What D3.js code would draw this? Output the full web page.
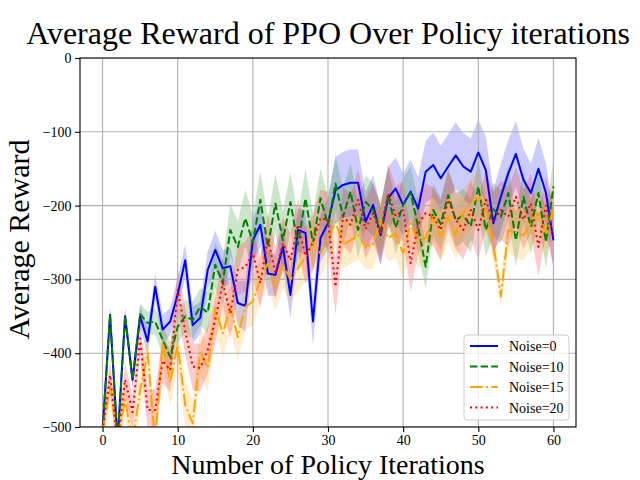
<!DOCTYPE html>
<html>
<head>
<meta charset="utf-8">
<script src="https://cdn.jsdelivr.net/npm/d3@7"></script>
<style>
  body { margin: 0; background: #fff; }
  svg { display: block; font-family: "Liberation Serif", "Times New Roman", serif; }
</style>
</head>
<body>
<svg id="chart" width="640" height="480"></svg>
<script>
// x values: policy iteration index 0..60
const iterations = d3.range(0, 61);

const xTicks = [0, 10, 20, 30, 40, 50, 60];
const yTicks = [0, -100, -200, -300, -400, -500];

const noiseLabels = ['Noise=0', 'Noise=10', 'Noise=15', 'Noise=20'];

// mean reward per iteration
const rewardNoise0 = [
  -505, -348, -520, -350, -436, -350, -384, -310, -368, -357,
  -320, -274, -362, -352, -287, -260, -285, -282, -332, -336,
  -247, -226, -292, -294, -256, -321, -233, -237, -357, -244,
  -224, -179, -172, -169, -169, -222, -199, -240, -190, -177,
  -199, -181, -204, -154, -145, -163, -147, -132, -147, -154,
  -128, -152, -224, -188, -156, -130, -165, -183, -150, -183,
  -247
];
const rewardNoise10 = [
  -505, -348, -520, -350, -436, -347, -359, -357, -382, -405,
  -364, -350, -355, -337, -345, -280, -305, -233, -256, -217,
  -250, -192, -256, -197, -247, -195, -253, -190, -251, -190,
  -226, -170, -215, -181, -233, -195, -206, -235, -186, -230,
  -199, -183, -229, -283, -206, -225, -186, -220, -213, -228,
  -174, -233, -205, -215, -183, -247, -188, -229, -183, -249,
  -174
];
const rewardNoise15 = [
  -505, -445, -520, -463, -520, -450, -400, -520, -385, -440,
  -389, -470, -495, -398, -420, -339, -373, -337, -378, -337,
  -330, -300, -278, -310, -280, -300, -285, -270, -250, -265,
  -242, -222, -253, -247, -240, -255, -253, -219, -244, -238,
  -265, -224, -251, -243, -215, -242, -215, -240, -210, -197,
  -188, -206, -251, -323, -233, -237, -240, -224, -210, -237,
  -206
];
const rewardNoise20 = [
  -505, -430, -520, -436, -480, -380, -477, -477, -410, -423,
  -314, -370, -418, -420, -395, -355, -305, -346, -287, -283,
  -265, -305, -245, -292, -251, -274, -226, -268, -250, -217,
  -219, -310, -214, -226, -192, -232, -210, -240, -183, -214,
  -206, -278, -225, -210, -215, -233, -192, -219, -233, -206,
  -233, -192, -222, -206, -215, -188, -219, -197, -256, -200,
  -242
];

// spread (half width of the shaded band)
const spreadNoise0 = [
   8, 10,  8, 12, 12, 15, 18, 18, 20, 18,
  22, 22, 25, 22, 25, 26, 25, 25, 30, 35,
  30, 30, 30, 28, 30, 32, 30, 30, 32, 32,
  35, 45, 45, 45, 45, 40, 40, 40, 42, 42,
  43, 43, 43, 42, 44, 44, 44, 45, 45, 45,
  45, 45, 45, 45, 45, 45, 42, 40, 42, 40,
  38
];
const spreadNoise10 = [
   8, 10,  8, 10, 10, 14, 15, 18, 20, 20,
  22, 22, 25, 25, 28, 30, 32, 35, 35, 38,
  38, 38, 40, 40, 40, 40, 40, 40, 40, 40,
  38, 38, 38, 38, 38, 36, 36, 36, 36, 36,
  36, 36, 36, 30, 36, 36, 36, 36, 36, 36,
  36, 36, 36, 36, 36, 36, 36, 36, 36, 36,
  38
];
const spreadNoise15 = [
  20, 22, 20, 25, 25, 28, 30, 30, 30, 32,
  32, 32, 30, 32, 32, 32, 32, 32, 32, 32,
  32, 32, 32, 32, 32, 32, 32, 32, 32, 32,
  32, 32, 32, 32, 32, 32, 32, 32, 32, 32,
  34, 34, 34, 34, 34, 34, 34, 34, 34, 34,
  34, 30, 25, 15, 30, 34, 34, 34, 34, 34,
  34
];
const spreadNoise20 = [
  18, 20, 18, 22, 22, 25, 28, 28, 30, 30,
  30, 32, 32, 32, 32, 32, 32, 34, 34, 34,
  34, 34, 36, 36, 36, 36, 36, 38, 38, 38,
  38, 38, 40, 40, 40, 40, 40, 40, 40, 40,
  40, 40, 40, 40, 40, 40, 40, 40, 40, 40,
  40, 40, 40, 40, 40, 40, 40, 40, 40, 40,
  40
];

const seriesList = [
  { label: noiseLabels[0], mean: rewardNoise0, spread: spreadNoise0, color: 'blue', dash: null },
  { label: noiseLabels[1], mean: rewardNoise10, spread: spreadNoise10, color: 'green', dash: '7.4,3.2' },
  { label: noiseLabels[2], mean: rewardNoise15, spread: spreadNoise15, color: 'orange', dash: '12.8,3.2,2,3.2' },
  { label: noiseLabels[3], mean: rewardNoise20, spread: spreadNoise20, color: 'red', dash: '2,3.3' },
];

const plot = { left: 80, right: 576, top: 58, bottom: 427 };

const svg = d3.select('#chart');

const x = d3.scaleLinear().domain([-3, 63]).range([plot.left, plot.right]);
const y = d3.scaleLinear().domain([-500, 0]).range([plot.bottom, plot.top]);

svg.append('defs').append('clipPath').attr('id', 'plotClip')
  .append('rect')
  .attr('x', plot.left).attr('y', plot.top)
  .attr('width', plot.right - plot.left).attr('height', plot.bottom - plot.top);

const inner = svg.append('g').attr('clip-path', 'url(#plotClip)');

// shaded bands go first (matplotlib puts collections under grid and lines)
seriesList.forEach(s => {
  const band = d3.area()
    .x(i => x(i))
    .y0(i => y(s.mean[i] - s.spread[i]))
    .y1(i => y(s.mean[i] + s.spread[i]));
  inner.append('path')
    .attr('d', band(iterations))
    .attr('fill', s.color)
    .attr('fill-opacity', 0.2)
    .attr('stroke', 'none');
});

// grid
const gridG = inner.append('g');
xTicks.forEach(t => {
  gridG.append('line')
    .attr('x1', x(t)).attr('x2', x(t))
    .attr('y1', plot.top).attr('y2', plot.bottom)
    .attr('stroke', '#b0b0b0').attr('stroke-width', 1.1);
});
yTicks.forEach(t => {
  gridG.append('line')
    .attr('x1', plot.left).attr('x2', plot.right)
    .attr('y1', y(t)).attr('y2', y(t))
    .attr('stroke', '#b0b0b0').attr('stroke-width', 1.1);
});

// mean lines
seriesList.forEach(s => {
  const line = d3.line().x(i => x(i)).y(i => y(s.mean[i]));
  inner.append('path')
    .attr('d', line(iterations))
    .attr('fill', 'none')
    .attr('stroke', s.color)
    .attr('stroke-width', 2)
    .attr('stroke-dasharray', s.dash)
    .attr('stroke-linejoin', 'round');
});

// axes
const fmt = d => (d < 0 ? '\u2212' + Math.abs(d) : String(d));

const xAxis = svg.append('g')
  .attr('transform', `translate(0,${plot.bottom})`)
  .call(d3.axisBottom(x).tickValues(xTicks).tickSize(4.9).tickPadding(3.5).tickFormat(fmt));
const yAxis = svg.append('g')
  .attr('transform', `translate(${plot.left},0)`)
  .call(d3.axisLeft(y).tickValues(yTicks).tickSize(4.9).tickPadding(3.5).tickFormat(fmt));

[xAxis, yAxis].forEach(a => {
  a.select('.domain').remove();
  a.selectAll('.tick line').attr('stroke', '#000').attr('stroke-width', 1.1);
  a.selectAll('.tick text')
    .attr('fill', '#000')
    .style('font-family', '"Liberation Serif", serif')
    .style('font-size', '14px');
});

// frame
svg.append('rect')
  .attr('x', plot.left).attr('y', plot.top)
  .attr('width', plot.right - plot.left).attr('height', plot.bottom - plot.top)
  .attr('fill', 'none').attr('stroke', '#000').attr('stroke-width', 1.1);

// titles
svg.append('text')
  .attr('x', (plot.left + plot.right) / 2).attr('y', 44)
  .attr('text-anchor', 'middle')
  .style('font-size', '32px')
  .text('Average Reward of PPO Over Policy iterations');

svg.append('text')
  .attr('x', (plot.left + plot.right) / 2).attr('y', 474)
  .attr('text-anchor', 'middle')
  .style('font-size', '28px')
  .text('Number of Policy Iterations');

svg.append('text')
  .attr('transform', `translate(29,${(plot.top + plot.bottom) / 2 - 3}) rotate(-90)`)
  .attr('text-anchor', 'middle')
  .style('font-size', '30px')
  .text('Average Reward');

// legend
const legend = svg.append('g');
legend.append('rect')
  .attr('x', 464).attr('y', 335)
  .attr('width', 105).attr('height', 85)
  .attr('rx', 3)
  .attr('fill', '#fff').attr('fill-opacity', 0.8)
  .attr('stroke', '#cccccc').attr('stroke-width', 1);

seriesList.forEach((s, k) => {
  const cy = 346 + k * 20.5;
  legend.append('line')
    .attr('x1', 470).attr('x2', 498)
    .attr('y1', cy).attr('y2', cy)
    .attr('stroke', s.color).attr('stroke-width', 2)
    .attr('stroke-dasharray', s.dash);
  legend.append('text')
    .attr('x', 509).attr('y', cy + 5)
    .style('font-size', '14px')
    .text(s.label);
});
</script>
</body>
</html>
